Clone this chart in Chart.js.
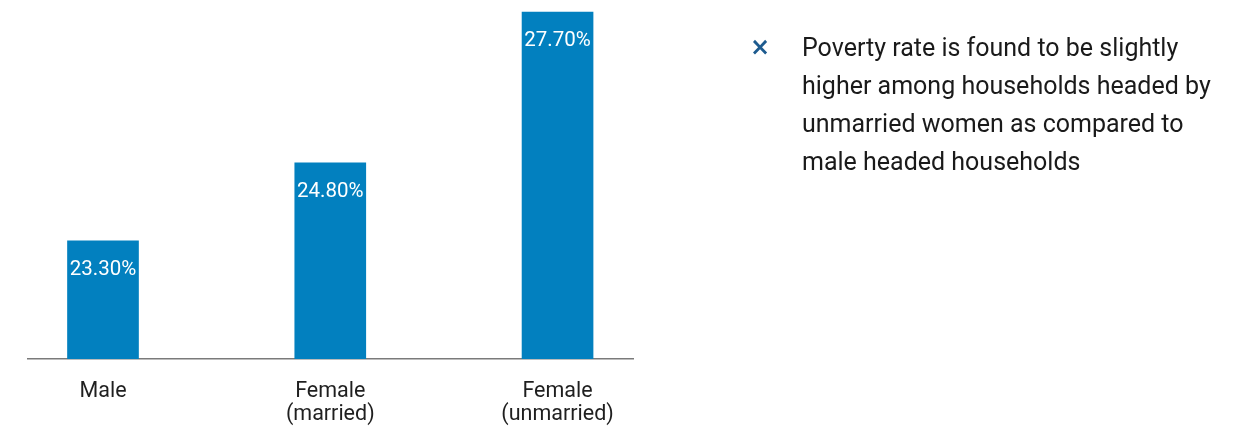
<!DOCTYPE html>
<html>
<head>
<meta charset="utf-8">
<script src="https://cdn.jsdelivr.net/npm/chart.js@4"></script>
<style>
  html, body { margin: 0; padding: 0; background: #ffffff; }
  #wrap { position: relative; width: 1246px; height: 428px; overflow: hidden; }
  #chart { position: absolute; left: 0; top: 0; }
  #note {
    position: absolute; left: 802px; top: 29px; width: 418px;
    font-family: Roboto, "Noto Sans", sans-serif; font-size: 25px; line-height: 38px;
    color: #1a1a1a;
  }
  #bullet {
    position: absolute; left: 750px; top: 28px; line-height: 38px;
    font-family: "DejaVu Sans", sans-serif; font-weight: bold; font-size: 24px; color: #1d5b8f;
  }
</style>
</head>
<body>
<div id="wrap">
  <canvas id="chart" width="1246" height="428"></canvas>
  <div id="bullet">×</div>
  <div id="note">Poverty rate is found to be slightly higher among households headed by unmarried women as compared to male headed households</div>
</div>
<script>
// Household head categories and poverty rates (%)
const categories = [["Male"], ["Female", "(married)"], ["Female", "(unmarried)"]];
const povertyRates = [23.3, 24.8, 27.7];

const barColor = '#0280bf';

// Writes each bar's value in white just inside its top edge
const valueLabels = {
  id: 'valueLabels',
  afterDatasetsDraw(chart) {
    const ctx = chart.ctx;
    const meta = chart.getDatasetMeta(0);
    ctx.save();
    ctx.fillStyle = '#ffffff';
    ctx.font = '20.5px Roboto, "Noto Sans", sans-serif';
    ctx.textAlign = 'center';
    ctx.textBaseline = 'middle';
    meta.data.forEach((bar, i) => {
      ctx.fillText(povertyRates[i].toFixed(2) + '%', bar.x, bar.y + 29);
    });
    ctx.restore();
  }
};

new Chart(document.getElementById('chart'), {
  type: 'bar',
  data: {
    datasets: [{
      data: povertyRates.map((v, i) => ({ x: i, y: v })),
      backgroundColor: barColor,
      borderWidth: 0,
      barThickness: 71
    }]
  },
  options: {
    responsive: false,
    animation: false,
    devicePixelRatio: 1,
    layout: { padding: { left: 28, right: 613, top: 0, bottom: 0 } },
    plugins: { legend: { display: false }, tooltip: { enabled: false } },
    scales: {
      x: {
        type: 'linear',
        offset: false,
        min: -0.33,
        max: 2.332,
        grid: { display: false, drawTicks: false },
        border: { display: true, color: '#7a7a7a', width: 1.5 },
        afterFit(scale) { scale.height = 69; },
        ticks: {
          stepSize: 1,
          includeBounds: false,
          autoSkip: false,
          maxRotation: 0,
          padding: 21,
          color: '#1f1f1f',
          font: { family: 'Roboto, "Noto Sans", sans-serif', size: 21.5, lineHeight: 1.08 },
          callback(value) {
            return Number.isInteger(value) && categories[value] ? categories[value] : '';
          }
        }
      },
      y: {
        display: false,
        min: 21.03,
        max: 27.93
      }
    }
  },
  plugins: [valueLabels]
});
</script>
</body>
</html>
